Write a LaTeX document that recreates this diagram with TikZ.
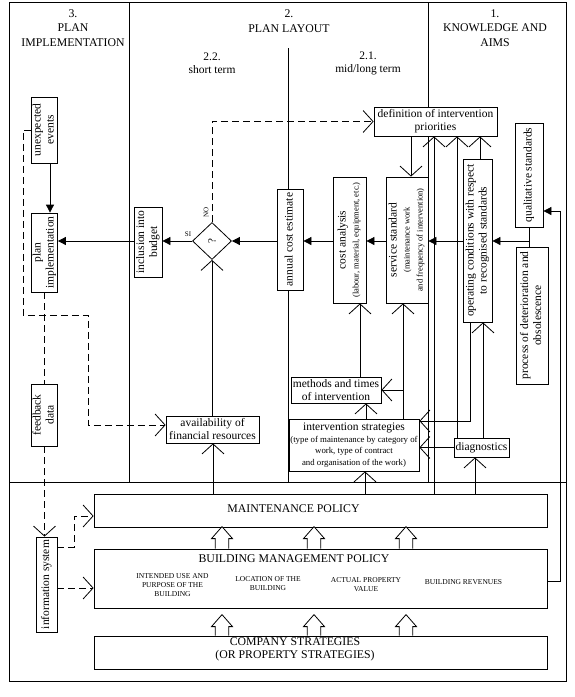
\documentclass[tikz,border=0pt]{standalone}
\usepackage{fontspec}
\setmainfont{Liberation Serif}
\usepackage{graphicx}
\usetikzlibrary{arrows.meta,shapes.geometric}
\newcommand\fnt[2]{\fontsize{#1}{#2}\selectfont}
\newcommand\vt[1]{\rotatebox{90}{\begin{tabular}{@{}c@{}}#1\end{tabular}}}
\newcommand\sm{\fnt{8.5}{10}}
\newcommand\barrow[2]{\draw[ln,fill=white] #1 ++(-6.8,0) -- ++(0,-#2) -- ++(-3.7,0) -- ++(10.5,-12) -- ++(10.5,12) -- ++(-3.7,0) -- ++(0,#2);}
\tikzset{
  ln/.style={line width=0.8pt},
  box/.style={ln, draw, fill=white, inner sep=0pt, align=center, font=\fnt{11.5}{13}},
  bigbox/.style={ln, draw, fill=white, inner sep=0pt, minimum width=453},
  farr/.style={ln, -{Triangle[length=8pt,width=8pt]}},
  oarr/.style={ln, -{Straight Barb[length=10pt,width=22pt]}},
  dsh/.style={dash pattern=on 7pt off 4pt},
  hdr/.style={align=center, font=\fnt{11.8}{14.5}, inner sep=0pt},
  subhdr/.style={align=center, font=\fnt{11.5}{13}, inner sep=0pt},
  caps/.style={align=center, font=\fnt{7.5}{9}, inner sep=0pt},
  big/.style={align=center, font=\fnt{11.8}{13.5}, inner sep=0pt},
  lab/.style={font=\fnt{7}{8}, inner sep=0pt},
}
\begin{document}
\begin{tikzpicture}[x=1pt,y=-1pt]
\useasboundingbox (0,0) rectangle (575,697);
\fill[white] (0,0) rectangle (575,697);
% frame and dividers
\draw[ln] (9,2) rectangle (566,681);
\draw[ln] (9,482) -- (566,482);
\draw[ln] (129,2) -- (129,482);
\draw[ln] (428,2) -- (428,482);
\draw[ln] (288,48) -- (288,482);
% headers
\node[hdr] (h3) at (73,28) {3.\\PLAN\\IMPLEMENTATION};
\node[hdr] (h2) at (289,21) {2.\\PLAN LAYOUT};
\node[hdr] (h1) at (495,28) {1.\\KNOWLEDGE AND\\AIMS};
\node[subhdr] (s22) at (212,63.5) {2.2.\\short term};
\node[subhdr] (s21) at (368,63.5) {2.1.\\mid/long term};
% column 3 boxes
\node[box, minimum width=25, minimum height=66] (unexp) at (44.5,130) {\vt{unexpected\\events}};
\node[box, minimum width=25, minimum height=79] (planimp) at (44.5,252.5) {\vt{plan\\implementation}};
\node[box, minimum width=25, minimum height=62] (feedback) at (44.5,415) {\vt{feedback\\data}};
\node[box, minimum width=21, minimum height=95] (infosys) at (46.5,584.5) {\vt{information system}};
% column 2.2
\node[box, minimum width=28, minimum height=70] (inclusion) at (148,242) {\vt{inclusion into\\budget}};
\node[ln, draw, fill=white, diamond, minimum width=39, minimum height=37, inner sep=0pt, font=\fnt{11}{12}] (dia) at (212,241) {\rotatebox{90}{?}};
\node[lab] (si) at (188,234) {SI};
\node[lab, rotate=90] (no) at (206,212) {NO};
\node[box, minimum width=93, minimum height=27] (avail) at (212.5,429.5) {availability of\\financial resources};
% column 2.1
\node[box, minimum width=26, minimum height=101] (annual) at (290,239.5) {\vt{annual cost estimate}};
\node[box, minimum width=33, minimum height=126] (costan) at (349.5,240) {\vt{cost analysis\\{\sm (labour, material, equipment, etc.)}}};
\node[box, minimum width=42, minimum height=126] (service) at (407,240) {\vt{service standard\\{\sm (maintenance work}\\{\sm and frequency of intervention)}}};
\node[box, minimum width=123, minimum height=29] (defin) at (435.5,121.5) {definition of intervention\\priorities};
\node[box, minimum width=90, minimum height=26] (methods) at (336,390) {methods and times\\of intervention};
\node[box, minimum width=130, minimum height=52, font=\fnt{8.8}{11.5}] (interv) at (354,445) {{\fnt{11.5}{13}intervention strategies}\\(type of maintenance by category of\\work, type of contract\\and organisation of the work)};
% column 1
\node[box, minimum width=29, minimum height=163] (opcond) at (477.5,240.5) {\vt{operating conditions with respect\\to recognised standards}};
\node[box, minimum width=28, minimum height=104] (qual) at (529,175) {\vt{qualitative standards}};
\node[box, minimum width=32, minimum height=137] (process) at (532,315.5) {\vt{process of deterioration and\\obsolescence}};
\node[box, minimum width=55, minimum height=19] (diag) at (481.5,447.5) {diagnostics};
% bottom policies
\node[bigbox, minimum height=33] (mp) at (320.5,510.5) {};
\node[big] (mpt) at (293.5,509) {MAINTENANCE POLICY};
\node[bigbox, minimum height=59] (bmp) at (320.5,578.5) {};
\node[big] (bmpt) at (294,559) {BUILDING MANAGEMENT POLICY};
\node[caps] (c1) at (172.5,585) {INTENDED USE AND\\PURPOSE OF THE\\BUILDING};
\node[caps] (c2) at (268,584) {LOCATION OF THE\\BUILDING};
\node[caps] (c3) at (366,584.5) {ACTUAL PROPERTY\\VALUE};
\node[caps] (c4) at (463.5,582) {BUILDING REVENUES};
\node[bigbox, minimum height=33] (cs) at (320.5,652.5) {};
\node[big] (cst) at (295,649.5) {COMPANY STRATEGIES\\(OR PROPERTY STRATEGIES)};
% block arrows
\barrow{(bmp.north -| 222,0)}{10}
\barrow{(bmp.north -| 314,0)}{10}
\barrow{(bmp.north -| 406,0)}{10}
\barrow{(cs.north -| 222,0)}{9}
\barrow{(cs.north -| 314,0)}{9}
\barrow{(cs.north -| 406,0)}{9}
% filled arrows (main flow)
\draw[farr] (unexp.south -| 50,0) -- (planimp.north -| 50,0);
\draw[farr] (inclusion.west |- 0,241) -- (planimp.east |- 0,241);
\draw[farr] (dia.west) -- (inclusion.east |- dia.west);
\draw[farr] (annual.west |- dia.east) -- (dia.east);
\draw[farr] (costan.west |- 0,241) -- (annual.east |- 0,241);
\draw[farr] (service.west |- 0,241) -- (costan.east |- 0,241);
\draw[farr] (opcond.west |- 0,241) -- (service.east |- 0,241);
\draw[ln] (qual.south) -- (qual.south |- process.north);
\draw[farr] (qual.south |- 0,241) -- (opcond.east |- 0,241);
\draw[farr] (bmp.east |- 0,581) -| (560,211) -- (qual.east |- 0,211);
% open arrows
\draw[oarr] (defin.south -| 411,0) -- (service.north -| 411,0);
\draw[oarr] (mp.north -| 434,0) -- (defin.south -| 434,0);
\draw[oarr] (diag.north -| 457,0) -- (defin.south -| 457,0);
\draw[oarr] (opcond.north -| 480,0) -- (defin.south -| 480,0);
\draw[oarr] (opcond.south -| 470,0) |- (interv.east |- 0,421);
\draw[oarr] (diag.north -| 483,0) -- (opcond.south -| 483,0);
\draw[oarr] (diag.west) -- (interv.east |- diag.west);
\draw[oarr] (mp.north -| 475,0) -- (diag.south -| 475,0);
\draw[oarr] (mp.north -| 365,0) -- (interv.south -| 365,0);
\draw[oarr] (interv.north -| 403,0) -- (service.south -| 403,0);
\draw[oarr] (403,0 |- methods.east) -- (methods.east);
\draw[oarr] (interv.north -| 366,0) -- (methods.south -| 366,0);
\draw[oarr] (methods.north -| 360,0) -- (costan.south -| 360,0);
\draw[oarr] (mp.north -| 213,0) -- (avail.south -| 213,0);
\draw[oarr] (avail.north -| dia.south) -- (dia.south);
% dashed
\draw[oarr,dsh] (dia.north) -- (dia.north |- defin.west) -- (defin.west);
\draw[oarr,dsh] (unexp.west) -- (23,0 |- unexp.west) -- (23,315) -- (88,315) -- (88,425) -- (avail.west |- 0,425);
\draw[ln,dsh] (planimp.south) -- (feedback.north);
\draw[oarr,dsh] (feedback.south) -- (infosys.north -| feedback.south);
\draw[oarr,dsh] (infosys.east |- 0,547) -- (74,547) -- (74,516) -- (mp.west |- 0,516);
\draw[oarr,dsh] (infosys.east |- 0,588) -- (bmp.west |- 0,588);
\end{tikzpicture}
\end{document}
